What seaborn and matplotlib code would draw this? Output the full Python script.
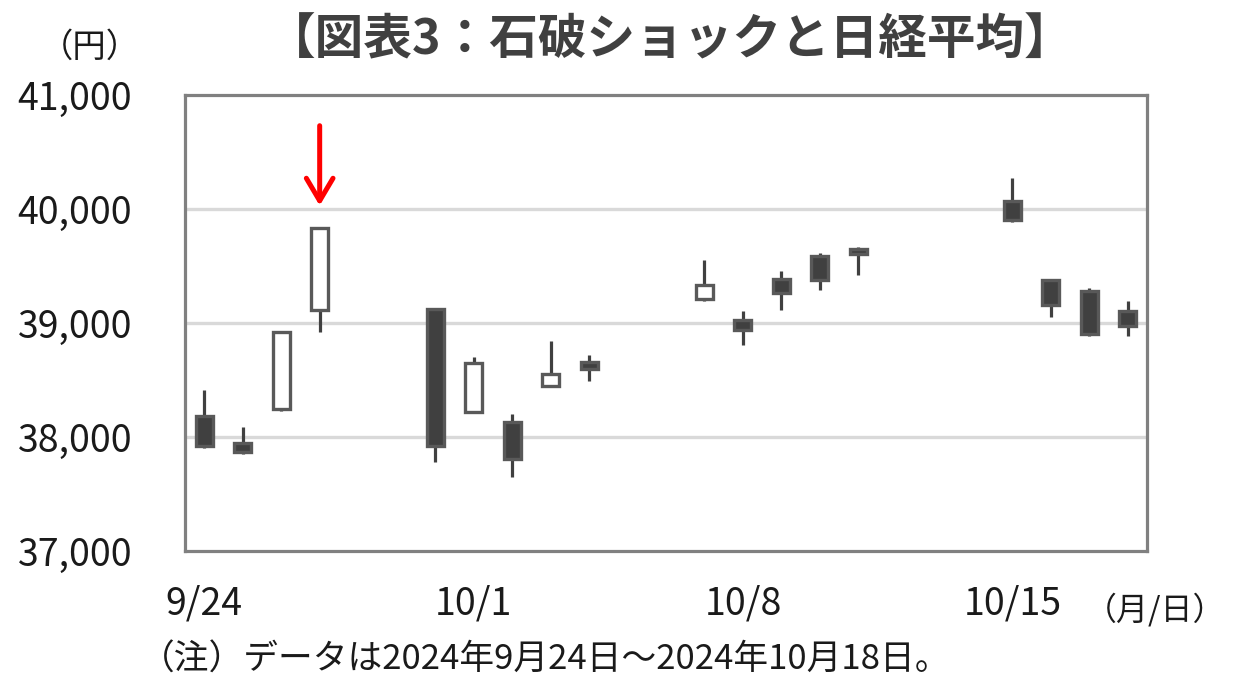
import matplotlib
matplotlib.use("Agg")
import matplotlib.pyplot as plt
import seaborn as sns
import pandas as pd
import numpy as np

# ---- data ----
dates = ["2024-09-24", "2024-09-25", "2024-09-26", "2024-09-27", "2024-09-30",
         "2024-10-01", "2024-10-02", "2024-10-03", "2024-10-04", "2024-10-07",
         "2024-10-08", "2024-10-09", "2024-10-10", "2024-10-11", "2024-10-15",
         "2024-10-16", "2024-10-17", "2024-10-18"]
opens  = [38180, 37945, 38250, 39110, 39120, 38220, 38135, 38445, 38660, 39210,
          39025, 39390, 39590, 39645, 40070, 39375, 39280, 39105]
highs  = [38410, 38085, 38930, 39830, 39120, 38700, 38200, 38840, 38720, 39555,
          39105, 39455, 39610, 39670, 40270, 39380, 39305, 39190]
lows   = [37900, 37848, 38230, 38925, 37785, 38215, 37650, 38440, 38495, 39195,
          38810, 39115, 39290, 39420, 39890, 39055, 38886, 38885]
closes = [37925, 37870, 38925, 39830, 37920, 38650, 37810, 38555, 38600, 39330,
          38935, 39260, 39380, 39605, 39900, 39160, 38900, 38975]
tick_label_dates = ["2024-09-24", "2024-10-01", "2024-10-08", "2024-10-15"]
tick_labels = ["9/24", "10/1", "10/8", "10/15"]
y_ticks = [37000, 38000, 39000, 40000, 41000]
shock_date = "2024-09-27"

title = "【図表3：石破ショックと日経平均】"
note = "（注）データは2024年9月24日～2024年10月18日。"

# ---- styling ----
sns.set_theme(style="white")
plt.rcParams['font.family'] = ['Noto Sans CJK JP', 'DejaVu Sans']

df = pd.DataFrame({"date": pd.to_datetime(dates), "open": opens, "high": highs,
                   "low": lows, "close": closes})
start = df["date"].min()
df["x"] = (df["date"] - start).dt.days
df["up"] = df["close"] >= df["open"]

W, H = 1233, 682
fig = plt.figure(figsize=(W / 100, H / 100), dpi=100)
ax = fig.add_axes([185 / W, 1 - 551 / H, (1147 - 185) / W, (551 - 95) / H])

frame_c = "#808080"
dark = "#404040"
edge = "#595959"
txt_c = "#1a1a1a"

# wicks
ax.vlines(df["x"], df["low"], df["high"], color=dark, lw=2.3, zorder=3)
# bodies
body_w = 0.44
lo = np.minimum(df["open"], df["close"])
hi = np.maximum(df["open"], df["close"])
fills = np.where(df["up"], "white", dark)
ax.bar(df["x"], hi - lo, bottom=lo, width=body_w, color=fills,
       edgecolor=edge, linewidth=2.4, zorder=4)

# grid lines
for v in y_ticks[1:-1]:
    ax.axhline(v, color="#d9d9d9", lw=2.4, zorder=1)

ax.set_ylim(37000, 41000)
ax.set_xlim(-0.5, df["x"].max() + 0.5)

ax.set_yticks(y_ticks)
ax.set_yticklabels([f"{v:,}" for v in y_ticks], fontsize=27, color=txt_c)
ax.tick_params(axis="y", direction="in", length=8, width=2, color=frame_c, pad=38)

lab_x = [(pd.Timestamp(d) - start).days for d in tick_label_dates]
ax.set_xticks([v - 0.5 for v in lab_x[1:]])
ax.set_xticklabels([])
ax.tick_params(axis="x", which="major", direction="in", length=6, width=2, color=frame_c)
ax.set_xticks(lab_x, minor=True)
ax.set_xticklabels(tick_labels, minor=True, fontsize=27, color=txt_c)
ax.tick_params(axis="x", which="minor", length=0, pad=24)

for s in ax.spines.values():
    s.set_color(frame_c)
    s.set_linewidth(2.3)
    s.set_visible(True)
ax.grid(False)

# red arrow at the shock day
sx = (pd.Timestamp(shock_date) - start).days
shi = df.loc[df["x"] == sx, "high"].iloc[0]
ax.annotate("", xy=(sx, shi + 175), xytext=(sx, shi + 925),
            arrowprops=dict(arrowstyle="->,head_length=1.35,head_width=0.8",
                            color="red", lw=3.6, capstyle="round", joinstyle="round"),
            zorder=6, annotation_clip=False)

# texts
fig.text(670 / W, 1 - 40 / H, title, ha="center", va="center", fontsize=35,
         fontweight="bold", color="#404040")
fig.text(90 / W, 1 - 47 / H, "（円）", ha="center", va="center", fontsize=24, color=txt_c)
fig.text(1225 / W, 1 - 610 / H, "（月/日）", ha="right", va="center", fontsize=23, color=txt_c)
fig.text(140 / W, 1 - 660 / H, note, ha="left", va="center", fontsize=25, color=txt_c)

fig.savefig("out.png", dpi=100, facecolor="white")
